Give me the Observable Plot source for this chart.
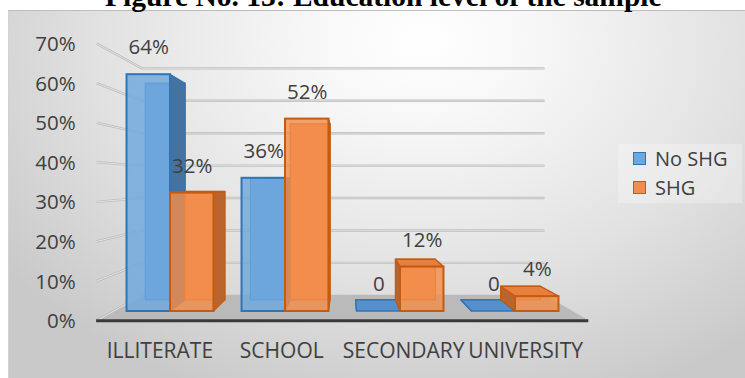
<!DOCTYPE html>
<html>
<head>
<meta charset="utf-8">
<script src="https://cdn.jsdelivr.net/npm/d3@7"></script>
<script src="https://cdn.jsdelivr.net/npm/@observablehq/plot@0.6"></script>
<style>
  html, body { margin: 0; padding: 0; background: #ffffff; }
  body { position: relative; width: 745px; height: 378px; overflow: hidden; font-family: "Open Sans", sans-serif; }
  #frame { position: absolute; left: 8px; top: 10px; width: 737px; height: 368px;
    border-top: 1px solid #bdbdbd; border-left: 1px solid #d2d2d2; box-sizing: border-box;
    background: radial-gradient(ellipse 70% 105% at 56% 8%, #ffffff 0%, #f7f7f7 22%, #e2e2e2 62%, #c9c9c9 100%); }
  #title { position: absolute; left: 105px; top: -19px; white-space: nowrap; line-height: 30px;
    font-family: "Liberation Serif", serif; font-weight: bold; font-size: 29.5px; color: #000; }
  #chart { position: absolute; left: 0; top: 0; }
  #legend { position: absolute; left: 618px; top: 144px; width: 124px; height: 59px; background: rgba(255,255,255,0.28); }
  .item { position: absolute; left: 0; height: 29px; line-height: 29px; font-size: 20px; color: #404040; white-space: nowrap; }
  .sw { position: absolute; left: 15px; top: 8px; width: 11px; height: 11px; border: 1.5px solid; }
  .lab { position: absolute; left: 37px; top: 0; }
</style>
</head>
<body>
<div id="frame"></div>
<div id="title">Figure No. 13: Education level of the sample</div>
<div id="chart"></div>
<div id="legend"></div>
<script>
// ---- data ----
const categories = ["ILLITERATE", "SCHOOL", "SECONDARY", "UNIVERSITY"];
const seriesNames = ["No SHG", "SHG"];
const noShgValues = [0.64, 0.36, 0, 0];
const shgValues = [0.32, 0.52, 0.12, 0.04];
const yTicks = [0, 0.1, 0.2, 0.3, 0.4, 0.5, 0.6, 0.7];
const tickLabels = ["0%", "10%", "20%", "30%", "40%", "50%", "60%", "70%"];

// ---- styles ----
const palette = [
  { front: "#6ea7dd", side: "#46729f", top: "#5590cc", back: "#6aa3da", edge: "#2f75b5" },
  { front: "#f28e4c", side: "#b9652d", top: "#e6803c", back: "#f08a47", edge: "#c55a11" }
];
const textColor = "#404040";

// ---- 3D layout (perspective toward a vanishing point, in data units) ----
const VP = { x: 2.039, y: 0.354 };
const kFront = 1.07, kLabel = 1.06, kBarBack = 0.915, kWall = 0.876;
const barW = 0.378;
const proj = (x, y, k) => ({ x: VP.x + (x - VP.x) * k, y: VP.y + (y - VP.y) * k });

const bars = [];
categories.forEach((c, i) => {
  [noShgValues, shgValues].forEach((vals, j) => {
    const value = vals[i];
    const x0 = i + 0.5 - barW + j * barW, x1 = x0 + barW;
    const b0 = proj(x0, 0, kBarBack), b1 = proj(x1, value, kBarBack);
    bars.push({ id: c + "|" + j, category: c, series: seriesNames[j], j, value, x0, x1,
      bx0: b0.x, bx1: b1.x, by0: b0.y, byv: b1.y });
  });
});

function seriesMarks(j) {
  const data = bars.filter(b => b.j === j);
  const c = palette[j];
  // only faces that the viewer can see from the vanishing point's side
  const left = data.filter(d => d.bx0 < d.x0).flatMap(d => [{ id: d.id, x: d.x0, y1: 0, y2: d.value }, { id: d.id, x: d.bx0, y1: d.by0, y2: d.byv }]);
  const right = data.filter(d => d.bx1 > d.x1).flatMap(d => [{ id: d.id, x: d.x1, y1: 0, y2: d.value }, { id: d.id, x: d.bx1, y1: d.by0, y2: d.byv }]);
  const top = data.filter(d => d.byv > d.value).flatMap(d => [{ id: d.id, y: d.value, x1: d.x0, x2: d.x1 }, { id: d.id, y: d.byv, x1: d.bx0, x2: d.bx1 }]);
  return [
    Plot.rect(data, { x1: "bx0", x2: "bx1", y1: "by0", y2: "byv", fill: c.back, stroke: c.edge, strokeWidth: 1.2 }),
    Plot.areaY(left, { x: "x", y1: "y1", y2: "y2", z: "id", fill: c.side, stroke: c.edge, strokeWidth: 1.2 }),
    Plot.areaY(right, { x: "x", y1: "y1", y2: "y2", z: "id", fill: c.side, stroke: c.edge, strokeWidth: 1.2 }),
    Plot.areaX(top, { y: "y", x1: "x1", x2: "x2", z: "id", fill: c.top, stroke: c.edge, strokeWidth: 1.5 }),
    Plot.rect(data, { x1: "x0", x2: "x1", y1: 0, y2: "value", fill: c.front, fillOpacity: 0.82, stroke: c.edge, strokeWidth: 2 })
  ];
}

const fl = proj(0, 0, kFront), fr = proj(4, 0, kFront);
const wl = proj(0, 0, kWall), wr = proj(4, 0, kWall);
const floor = [{ y: fl.y, x1: fl.x, x2: fr.x }, { y: wl.y, x1: wl.x, x2: wr.x }];
const fmt = v => v === 0 ? "0" : Math.round(v * 100) + "%";

const chart = Plot.plot({
  width: 745, height: 378,
  marginLeft: 112.5, marginRight: 172.5, marginTop: 52, marginBottom: 67,
  x: { domain: [0, 4], axis: null },
  y: { domain: [0, 0.7], axis: null },
  style: { background: "transparent", fontFamily: "Open Sans", overflow: "visible" },
  marks: [
    Plot.areaX(floor, { y: "y", x1: "x1", x2: "x2", fill: "#bababa" }),
    Plot.ruleY(yTicks.filter(v => v > 0), { y: v => proj(0, v, kWall).y, x1: wl.x, x2: wr.x, stroke: "#bcbcbc", strokeWidth: 2.4 }),
    Plot.ruleY(yTicks.filter(v => v > 0), { y: v => proj(0, v, kWall).y, x1: wl.x, x2: wr.x, stroke: "#ececec", strokeWidth: 0.7 }),
    Plot.link(yTicks, { x1: fl.x, y1: v => proj(0, v, kFront).y, x2: wl.x, y2: v => proj(0, v, kWall).y, stroke: "#bcbcbc", strokeWidth: 2.4 }),
    Plot.link(yTicks, { x1: fl.x, y1: v => proj(0, v, kFront).y, x2: wl.x, y2: v => proj(0, v, kWall).y, stroke: "#f0f0f0", strokeWidth: 0.7 }),
    Plot.ruleY([0], { y: () => fl.y, x1: fl.x, x2: fr.x, stroke: "#3a3a3a", strokeWidth: 3 }),
    ...seriesMarks(0),
    ...seriesMarks(1),
    Plot.text(bars, { x: d => (d.x0 + d.x1) / 2, y: "value", dy: -27, text: d => fmt(d.value), fontSize: 20.5, fill: textColor }),
    Plot.text(yTicks, { x: fl.x, y: v => proj(0, v, kFront).y, text: (v, i) => tickLabels[i], textAnchor: "end", dx: -21, dy: 1, fontSize: 20.5, fill: textColor }),
    Plot.text(categories, { x: (c, i) => proj(i + 0.5, 0, kLabel).x, y: () => fl.y, dy: 31, text: d => d, fontSize: 21, fill: textColor })
  ]
});
document.getElementById("chart").appendChild(chart);

// legend
const legend = document.getElementById("legend");
seriesNames.forEach((name, j) => {
  const row = document.createElement("div");
  row.className = "item";
  row.style.top = (j * 29) + "px";
  row.style.width = "124px";
  const sw = document.createElement("span");
  sw.className = "sw";
  sw.style.background = palette[j].front;
  sw.style.borderColor = palette[j].edge;
  const lab = document.createElement("span");
  lab.className = "lab";
  lab.textContent = name;
  row.appendChild(sw); row.appendChild(lab);
  legend.appendChild(row);
});
</script>
</body>
</html>
